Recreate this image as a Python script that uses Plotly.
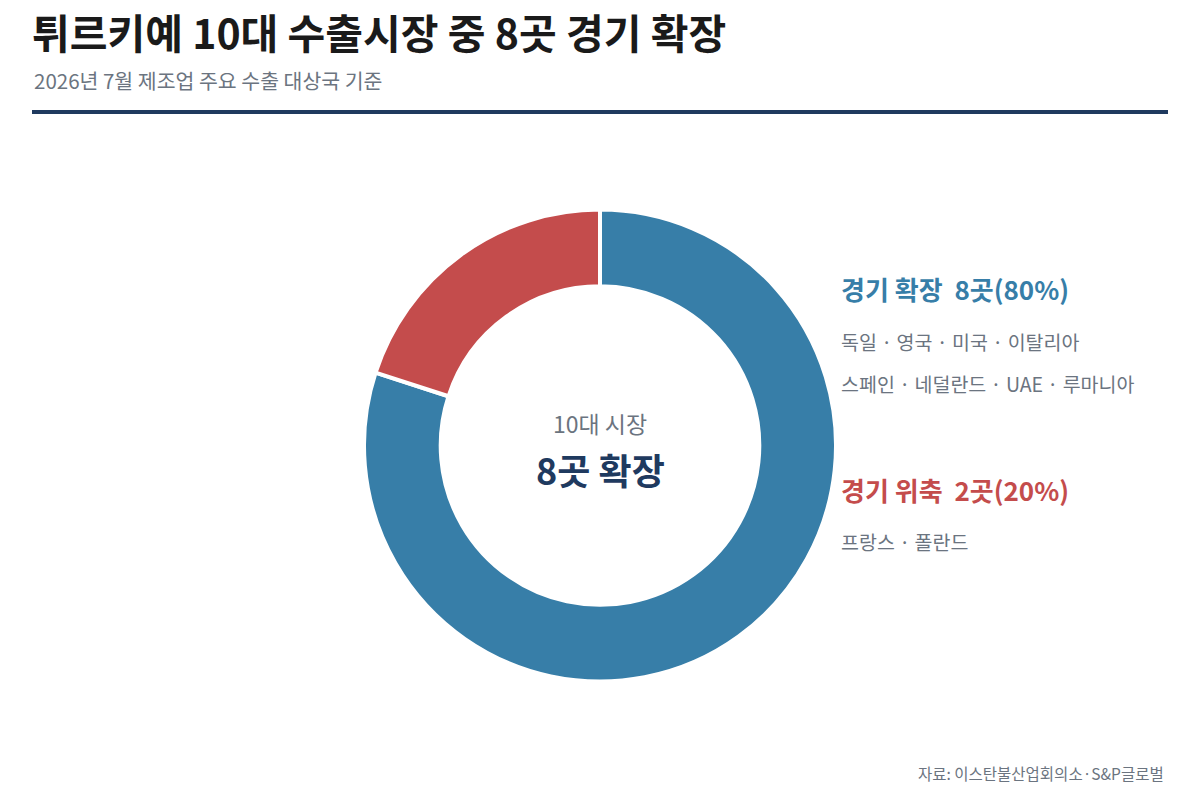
import plotly.graph_objects as go

# 2026년 7월 제조업 경기 - 튀르키예 10대 수출시장
groups = ["경기 확장", "경기 위축"]
counts = [8, 2]
shares = [80, 20]
countries = [
    ["독일 · 영국 · 미국 · 이탈리아", "스페인 · 네덜란드 · UAE · 루마니아"],
    ["프랑스 · 폴란드"],
]
colors = ["#377ea8", "#c44c4c"]

FONT = "Noto Sans CJK KR"
W, H = 1200, 796
OFF = 8  # body margin of the page


def px_(x):
    return (x - OFF) / W


def py(y):
    # pixel from top -> paper y
    return 1 - (y - OFF) / H


fig = go.Figure()
fig.add_trace(go.Pie(
    labels=groups, values=counts,
    hole=0.675, sort=False, direction="clockwise", rotation=0,
    marker=dict(colors=colors, line=dict(color="white", width=4)),
    textinfo="none", hoverinfo="label+value+percent",
    domain=dict(x=[px_(364), px_(836)], y=[py(682), py(209)]),
    showlegend=False,
))

ann = []
ann.append(dict(x=px_(32), y=py(80), text="2026년 7월 제조업 주요 수출 대상국 기준",
                font=dict(size=20.5, color="#6b7480"), xanchor="left", yanchor="middle"))

# 오른쪽 범례 텍스트
head_y = [289, 489]
for i, g in enumerate(groups):
    ann.append(dict(x=px_(839), y=py(head_y[i]),
                    text=f"<b>{g}  {counts[i]}곳({shares[i]}%)</b>",
                    font=dict(size=26, color=colors[i]), xanchor="left", yanchor="middle"))
    for j, line in enumerate(countries[i]):
        ann.append(dict(x=px_(839), y=py(head_y[i] + 52 + 42 * j), text=line,
                        font=dict(size=19.5, color="#6b7480"), xanchor="left", yanchor="middle"))

# 도넛 가운데
ann.append(dict(x=px_(600), y=py(423), text="10대 시장",
                font=dict(size=23, color="#6b7480"), xanchor="center", yanchor="middle"))
ann.append(dict(x=px_(600), y=py(469), text=f"<b>{counts[0]}곳 확장</b>",
                font=dict(size=36, color="#1f3a5f"), xanchor="center", yanchor="middle"))

ann.append(dict(x=px_(1166), y=py(773), text="자료: 이스탄불산업회의소·S&P글로벌",
                font=dict(size=15.5, color="#6b7480"), xanchor="right", yanchor="middle"))

for a in ann:
    a.update(xref="paper", yref="paper", showarrow=False)

fig.update_layout(
    width=W, height=H,
    margin=dict(l=0, r=0, t=0, b=0),
    paper_bgcolor="white", plot_bgcolor="white",
    font=dict(family=FONT),
    title=dict(text="<b>튀르키예 10대 수출시장 중 8곳 경기 확장</b>",
               font=dict(size=41, color="#1a1a1a"),
               x=px_(32), xanchor="left", xref="container",
               y=py(35), yanchor="middle", yref="container"),
    annotations=ann,
    shapes=[dict(type="line", xref="paper", yref="paper",
                 x0=px_(32), x1=px_(1168), y0=py(112), y1=py(112),
                 line=dict(color="#1f3a5f", width=4))],
)

fig.write_html("out.html")
